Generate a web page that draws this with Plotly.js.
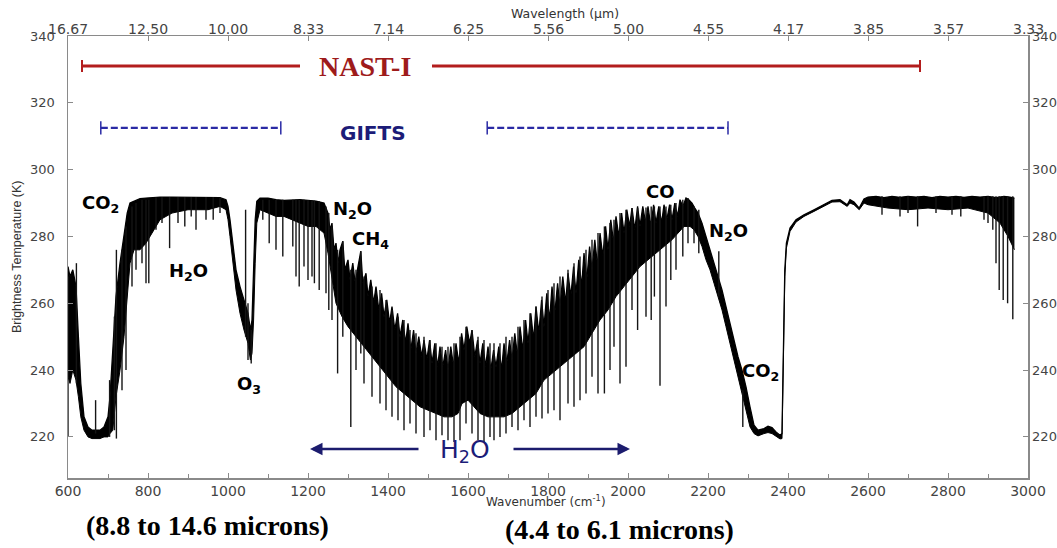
<!DOCTYPE html>
<html>
<head>
<meta charset="utf-8">
<script src="https://cdn.plot.ly/plotly-3.0.1.min.js"></script>
<style>html,body{margin:0;padding:0;background:#fff;}#chart{width:1057px;height:548px;}</style>
</head>
<body>
<div id="chart"></div>
<script>
// ---- Upper edge of the spectrum (wavenumber cm-1, brightness temperature K) ----
const wnTop = [600,605,612,620,626,632,640,650,660,670,680,690,700,705,712,720,730,740,748,755,765,780,795,810,830,860,900,950,980,995,
1000,1005,1012,1020,1030,1040,1050,1056,1060,1064,1068,1072,1080,1100,1120,1140,1160,1180,1200,1220,1240,
1250,1255,1260,1265,1270,1275,1280,1287,1292,1300,1305,1312,1318,1325,1332,1337,1345,1350,1357,1364,1370,1377,1384,1390,1397,
1404,1410,1417,1424,1430,1437,1444,1450,1457,1464,1470,1477,1484,1490,1497,1504,1510,1517,1524,1530,1537,1544,1550,1557,1564,
1570,1577,1584,1590,1597,1604,1610,1617,1624,1630,1637,1644,1650,1657,1664,1670,1677,1684,1690,1697,1704,1710,1717,1724,1730,
1737,1744,1750,1757,1764,1770,1777,1784,1790,1797,1804,1810,1817,1824,1830,1837,1844,1850,1857,1864,1870,1877,1884,1890,1897,
1904,1910,1917,1924,1930,1937,1944,1950,1957,1964,1970,1977,1984,1990,1997,2004,2010,2017,2024,2030,2037,2044,2050,2057,2064,
2070,2077,2084,2090,2097,2104,2110,2117,2124,2130,2137,2145,2152,2160,2167,2175,
2185,2195,2205,2215,2225,2235,2245,2255,2265,2275,2285,2295,2305,2315,2325,2340,2350,2360,2370,2380,2385,2388,2392,2396,2405,
2420,2440,2465,2490,2510,2530,2548,2555,2565,2578,2590,2600,2620,2640,2660,2680,2700,2720,2740,2760,2780,2800,2820,2840,2860,
2880,2900,2920,2940,2955,2966];
const tTop = [271,268,270,265,250,236,226,223,222,222,222,223,226,232,248,262,272,280,287,290,290.5,291.3,291.5,291.7,291.8,291.8,291.8,291.8,291.6,291,
289,285,277,270,265,261,257,252,255,270,285,290.5,291.5,291.5,291,290.8,291,291,290.8,290.6,290,
287,282,284,276,278,272,276,278.6,270,273,267,272,266,271,275.6,266,269,262,267,260,265,258,263,256,261,
254,259,252,257,250,255,248,254,246,252,245,250,244,249,243,249,242,248,241,247,241,246,240,247,241,
248,242,251,246,253,248,252,244,249,242,248,241,247,240,246,241,247,240,248,242,249,243,251,244,253,
246,255,248,257,249,259,251,261,253,263,255,265,257,266,259,268,260,269,262,271,263,273,265,275,267,
277,270,279,271,281,274,283,276,285,278,286,280,287,281,288,283,288.5,282,289,283,289,284,289,283,289.5,
284,289,284,289.5,285,289.5,285,290,286,291,289,291.5,291,290,288.5,287,
284,280,276,272,268,264,259,254,249,244,240,235,229,223.5,222,222.5,223.2,222.8,221.5,220.5,221,240,270,278,282.5,
285,286.5,288,289.5,290.8,291,289.5,291,290.3,288.5,291.2,291.8,292,291.6,292,291.7,292,291.8,292,291.6,292,291.8,292,291.7,292,
291.8,292,291.6,292,291.8,291.5];

// ---- Lower edge of the dense black band ----
const wnBot = [600,605,612,620,626,632,640,650,660,670,680,690,700,705,712,720,730,740,748,755,765,780,795,810,830,860,900,950,980,995,
1000,1005,1012,1020,1030,1040,1050,1056,1060,1064,1068,1072,1080,1100,1120,1140,1160,1180,1200,1220,1240,1250,1260,1270,1285,1300,
1320,1340,1360,1380,1400,1420,1440,1460,1480,1500,1520,1540,1560,1575,1585,1600,1615,1630,1650,1670,1690,1710,1730,1750,1770,1790,
1810,1830,1850,1870,1890,1910,1930,1950,1970,1990,2010,2030,2050,2070,2090,2110,2125,2140,2155,2165,2175,2185,2195,2205,2215,2225,
2235,2245,2255,2265,2275,2285,2295,2305,2315,2325,2340,2350,2360,2370,2380,2385,2388,2392,2396,2405,2420,2440,2465,2490,2510,2530,
2548,2555,2565,2578,2590,2600,2650,2700,2750,2800,2850,2900,2930,2950,2966];
const tBot = [238,236,240,237,232,226,222,220,219.5,219.5,219.5,220,220,221,222,232,240,250,262,272,276,276,278,281,285,287,288,288,289,288,
285,280,272,264,257,252,248,243,245,255,272,284,288,287,286,286,285,284,283,283,281,275,268,260,256,253,
250,247,244,241,238,235,233,231,229,228,227,226,226,227,230,231,229,227,226,226,226,227,229,231,233,237,
239,241,243,245,247,251,255,258,262,265,268,271,273,275,277,279,281,283,283,282,280,277,273,270,266,262,
258,253,248,243,238,233,228,223,221,220.3,221,221.3,221,220.3,219.4,219.5,238,268,276.5,281.5,284.3,286,287.5,289,290.3,290.4,
289,290,289.5,288,290,289.5,288.5,288,288.5,288,288.5,287,284,280,276];

// ---- Individual absorption lines (wavenumber, top K, bottom K) ----
const spikeWn = [600,621,669,704,716,721,735,745,760,770,785,795,802,820,835,854,875,892,908,920,945,963,980,1044,1050,1058,
1087,1103,1120,1137,1162,1170,1178,1190,1200,1210,1216,1228,1245,1252,1260,1274,1287,1307,1320,1332,1340,1360,1380,1395,1410,1425,
1440,1455,1470,1490,1505,1520,1535,1550,1565,1580,1595,1610,1625,1640,1655,1665,1680,1695,1710,1725,1740,1755,1770,1785,1800,1815,
1830,1850,1865,1880,1895,1910,1925,1941,1955,1965,1980,1995,2010,2024,2045,2058,2066,2080,2095,2107,2120,2137,2150,2165,2177,2227,
2287,2635,2680,2700,2724,2770,2810,2832,2890,2900,2912,2920,2928,2938,2949,2962];
const spikeHi = [268,272,231,237,256,276,276,283,289,290,291,291,291,291.7,291.7,291.8,291.8,291.8,291.8,291.8,291.8,291.8,291.6,288,260,252,
291,291,291,291,291,291,291,291,290.8,290.7,290.7,290.5,289,287,283,276,278.6,270,270,275.6,268,265,264,261,258,256,
255,252,251,250,249,248,247,247,248,250,253,252,250,249,248,248,248,250,250,253,255,257,259,262,264,266,
268,270,272,274,276,279,281,283,284,285,287,288,288.5,288.5,288.7,289,289,289,289,289.5,290,291,291.5,289,288,275.6,
234,292,292,292,292,292,292,292,292,292,292,292,292,292,292,292];
const spikeLo = [220,236,221,220,222,219.5,234,240,265,270,272,266,266,282,284,276.5,284,283,286,282,285,285,287,250,243,242,
285,278,276,274,277,268,265,271,267,268,266,264,263,258,255,239,250,223,240,245,236,232,230,228,226,225,
222,224,221,220,222,219,220.5,219,218.5,219,224,221,219,218.5,220,219,220,221,223,222,225,223,226,225.5,227,228,
225,230,229,231,233,238,233,233,240,247,236,241,258,252,256,255,262,235.3,259,267,270,274,278,278,275,262,
223,286.5,286,287,283,287,286.5,286,285,284,282,272,264,261,260,255.2];

// ---- Axis tick labels ----
const wnTicks = [600,800,1000,1200,1400,1600,1800,2000,2200,2400,2600,2800,3000];
const wlLabels = ["16.67","12.50","10.00","8.33","7.14","6.25","5.56","5.00","4.55","4.17","3.85","3.57","3.33"];

const sx = [], sy = [];
for (let i = 0; i < spikeWn.length; i++) {
  sx.push(spikeWn[i], spikeWn[i], null);
  sy.push(spikeHi[i], spikeLo[i], null);
}

const data = [
  {x: wnBot, y: tBot, mode: 'lines', line: {color: '#000', width: 1}, hoverinfo: 'skip', showlegend: false},
  {x: wnTop, y: tTop, mode: 'lines', fill: 'tonexty', fillcolor: '#000', line: {color: '#000', width: 1.3}, hoverinfo: 'skip', showlegend: false},
  {x: sx, y: sy, mode: 'lines', line: {color: '#151515', width: 1.4}, connectgaps: false, hoverinfo: 'skip', showlegend: false},
  {x: [600, 3000], y: [210, 340], xaxis: 'x2', yaxis: 'y2', mode: 'markers', marker: {opacity: 0}, hoverinfo: 'skip', showlegend: false}
];

const YR = [207.7, 340];
const xTickFont = {family: 'DejaVu Sans', size: 14, color: '#444'};
const yTickFont = {family: 'DejaVu Sans', size: 13, color: '#444'};
const axBase = {showgrid: false, zeroline: false, showline: true, linecolor: '#8a8a8a', linewidth: 1.5,
  ticks: 'inside', ticklen: 5, tickcolor: '#8a8a8a', tickwidth: 1};

const ann = (text, x, y, size, extra) => Object.assign({text: text, x: x, y: y, xref: 'x', yref: 'y', showarrow: false,
  xanchor: 'center', yanchor: 'middle', font: {family: 'DejaVu Sans', size: size, color: '#000'}}, extra || {});

// top (wavelength) tick labels placed right on the top border
const topLabels = wnTicks.map((w, i) => ({text: wlLabels[i], x: w, xref: 'x', y: 1, yref: 'paper', yanchor: 'bottom',
  xanchor: 'center', yshift: -3, showarrow: false, font: xTickFont}));

const layout = {
  width: 1057, height: 548,
  margin: {l: 68, r: 29, t: 36, b: 70},
  paper_bgcolor: '#fff', plot_bgcolor: '#fff',
  xaxis: Object.assign({}, axBase, {range: [600, 3000], tickvals: wnTicks, ticktext: wnTicks.map(String), tickfont: xTickFont,
    minor: {dtick: 100, tick0: 600, ticks: 'inside', ticklen: 4, tickcolor: '#8a8a8a'}}),
  xaxis2: Object.assign({}, axBase, {range: [600, 3000], overlaying: 'x', side: 'top', anchor: 'y',
    tickvals: wnTicks, showticklabels: false}),
  yaxis: Object.assign({}, axBase, {range: YR, tick0: 220, dtick: 20, ticklabelstandoff: 9, tickfont: yTickFont}),
  yaxis2: Object.assign({}, axBase, {range: YR, tick0: 220, dtick: 20, overlaying: 'y', side: 'right', anchor: 'x', tickfont: yTickFont}),
  shapes: [
    // NAST-I
    {type: 'line', xref: 'x', yref: 'y', x0: 635, x1: 1180, y0: 331.0, y1: 331.0, line: {color: '#b31d1d', width: 3}},
    {type: 'line', xref: 'x', yref: 'y', x0: 1510, x1: 2730, y0: 331.0, y1: 331.0, line: {color: '#b31d1d', width: 3}},
    {type: 'line', xref: 'x', yref: 'y', x0: 635, x1: 635, y0: 329.2, y1: 332.8, line: {color: '#b31d1d', width: 2}},
    {type: 'line', xref: 'x', yref: 'y', x0: 2730, x1: 2730, y0: 329.2, y1: 332.8, line: {color: '#b31d1d', width: 2}},
    // GIFTS
    {type: 'line', xref: 'x', yref: 'y', x0: 682, x1: 1132, y0: 312.5, y1: 312.5, line: {color: '#2a2aa5', width: 2.2, dash: '7px,3px'}},
    {type: 'line', xref: 'x', yref: 'y', x0: 1648, x1: 2250, y0: 312.5, y1: 312.5, line: {color: '#2a2aa5', width: 2.2, dash: '7px,3px'}},
    {type: 'line', xref: 'x', yref: 'y', x0: 682, x1: 682, y0: 310.5, y1: 314.5, line: {color: '#2a2aa5', width: 1.5}},
    {type: 'line', xref: 'x', yref: 'y', x0: 1132, x1: 1132, y0: 310.5, y1: 314.5, line: {color: '#2a2aa5', width: 1.5}},
    {type: 'line', xref: 'x', yref: 'y', x0: 1648, x1: 1648, y0: 310.5, y1: 314.5, line: {color: '#2a2aa5', width: 1.5}},
    {type: 'line', xref: 'x', yref: 'y', x0: 2250, x1: 2250, y0: 310.5, y1: 314.5, line: {color: '#2a2aa5', width: 1.5}}
  ],
  annotations: topLabels.concat([
    ann('<b>NAST-I</b>', 1342, 331.0, 28, {font: {family: 'Liberation Serif', size: 28, color: '#9e1b1b'}}),
    ann('<b>GIFTS</b>', 1362, 311, 20, {font: {family: 'DejaVu Sans', size: 20, color: '#1c1c78'}}),
    // H2O arrows
    {x: 1205, y: 216.4, ax: 1480, ay: 216.4, axref: 'x', ayref: 'y', xref: 'x', yref: 'y', text: '', showarrow: true,
      arrowhead: 2, arrowsize: 1, arrowwidth: 2.5, arrowcolor: '#1c1c6e'},
    {x: 2005, y: 216.4, ax: 1710, ay: 216.4, axref: 'x', ayref: 'y', xref: 'x', yref: 'y', text: '', showarrow: true,
      arrowhead: 2, arrowsize: 1, arrowwidth: 2.5, arrowcolor: '#1c1c6e'},
    ann('H<sub>2</sub>O', 1592, 215.8, 25, {font: {family: 'DejaVu Sans', size: 25, color: '#1c1c78'}}),
    // gas labels
    ann('<b>CO<sub>2</sub></b>', 680, 289.6, 18),
    ann('<b>H<sub>2</sub>O</b>', 900, 269.5, 18),
    ann('<b>O<sub>3</sub></b>', 1052, 235.6, 18),
    ann('<b>N<sub>2</sub>O</b>', 1312, 288, 18),
    ann('<b>CH<sub>4</sub></b>', 1357, 278.8, 18),
    ann('<b>CO</b>', 2082, 293.4, 18),
    ann('<b>N<sub>2</sub>O</b>', 2252, 281.4, 18),
    ann('<b>CO<sub>2</sub></b>', 2332, 239.4, 18),
    // axis titles
    {text: 'Wavelength (µm)', x: 0.518, y: 1.0498, xref: 'paper', yref: 'paper', showarrow: false, xanchor: 'center', yanchor: 'middle',
      font: {family: 'DejaVu Sans', size: 12.5, color: '#333'}},
    {text: 'Wavenumber (cm<sup>-1</sup>)', x: 0.498, y: -0.053, xref: 'paper', yref: 'paper', showarrow: false, xanchor: 'center', yanchor: 'middle',
      font: {family: 'DejaVu Sans', size: 12, color: '#333'}},
    {text: 'Brightness Temperature (K)', x: -0.053, y: 0.5, xref: 'paper', yref: 'paper', showarrow: false, textangle: -90,
      xanchor: 'center', yanchor: 'middle', font: {family: 'Liberation Sans', size: 12.5, color: '#333'}},
    // bottom captions
    {text: '<b>(8.8 to 14.6 microns)</b>', x: 0.1448, y: -0.108, xref: 'paper', yref: 'paper', showarrow: false, xanchor: 'center', yanchor: 'middle',
      font: {family: 'Liberation Serif', size: 28, color: '#000'}},
    {text: '<b>(4.4 to 6.1 microns)</b>', x: 0.574, y: -0.116, xref: 'paper', yref: 'paper', showarrow: false, xanchor: 'center', yanchor: 'middle',
      font: {family: 'Liberation Serif', size: 28, color: '#000'}}
  ])
};

Plotly.newPlot('chart', data, layout, {displayModeBar: false, staticPlot: true});
</script>
</body>
</html>
